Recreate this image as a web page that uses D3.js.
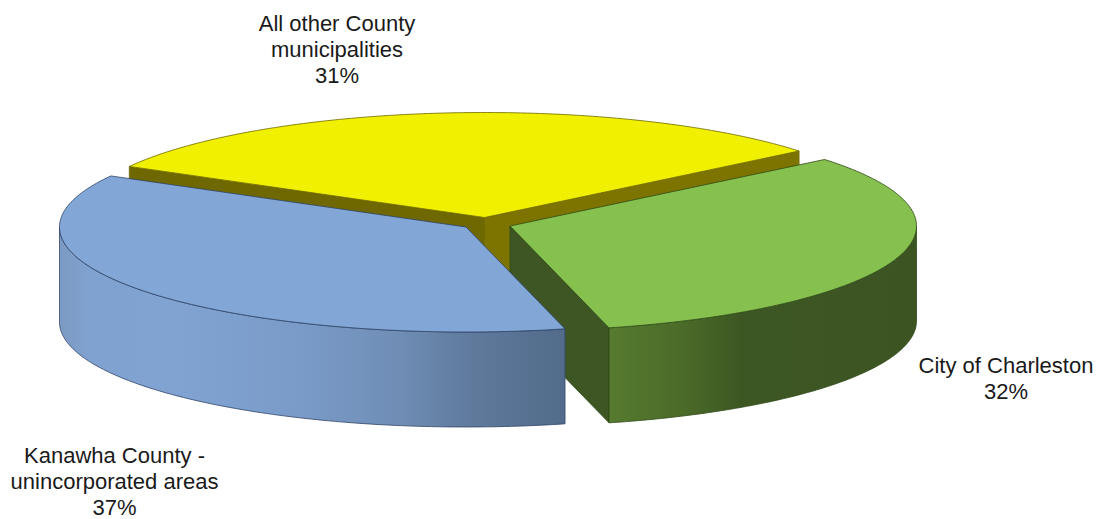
<!DOCTYPE html>
<html>
<head>
<meta charset="utf-8">
<script src="https://cdn.jsdelivr.net/npm/d3@7/dist/d3.min.js"></script>
<style>
  html, body { margin: 0; padding: 0; background: #fff; }
  svg { display: block; }
  text { font-family: "Liberation Sans", Arial, sans-serif; font-size: 22px; fill: #1a1a1a; text-anchor: middle; }
</style>
</head>
<body>
<svg id="chart" width="1104" height="519"></svg>
<script>
// Shares of the county total, clockwise from the back-left edge of the disc.
const categories = ["All other County municipalities", "City of Charleston", "Kanawha County - unincorporated areas"];
const shares = [31, 32, 37];
const labelLines = [
  ["All other County", "municipalities", "31%"],
  ["City of Charleston", "32%"],
  ["Kanawha County -", "unincorporated areas", "37%"]
];
const topColors = ["#f0f000", "#86c04e", "#82a6d5"];
const edgeColors = ["#6e6a00", "#2f4a18", "#2e4468"];
const cutColors = ["#7a7200", "#3d5623", "#55708f"];

// Each slice is pulled out of the disc, so it has its own centre.
const centres = [[484.5, 217.5], [510, 226], [466, 227]];
const labelAnchors = [[337, 31], [1006, 373], [114.5, 463]];
const radiusX = 406.5, radiusY = 105, depth = 95, lineStep = 26;
const startDeg = -60.9;

const svg = d3.select("#chart");
const defs = svg.append("defs");
const rad = d => d * Math.PI / 180;

const pie = d3.pie().sort(null)
  .startAngle(rad(startDeg))
  .endAngle(rad(startDeg + 360));
const slices = pie(shares);

// Tilted-disc projection: slice angle to screen offset.
const px = (i, a) => centres[i][0] + radiusX * Math.sin(a);
const py = (i, a) => centres[i][1] - radiusY * Math.cos(a);
const path = d3.line().x(d => d[0]).y(d => d[1]);

function arcPoints(i, a0, a1, dy = 0) {
  return d3.range(0, 121).map(k => {
    const a = a0 + (a1 - a0) * k / 120;
    return [px(i, a), py(i, a) + dy];
  });
}

// Radial cut face running from the slice centre out to angle a.
function cutFace(g, i, a, fill) {
  const c = centres[i], p = [px(i, a), py(i, a)];
  g.append("path")
    .attr("d", path([c, p, [p[0], p[1] + depth], [c[0], c[1] + depth]]) + "Z")
    .attr("fill", fill)
    .attr("stroke", edgeColors[i])
    .attr("stroke-width", 0.8);
}

// Curved outer wall of a slice, between two angles on the front of the disc.
function outerWall(g, i, a0, a1, fill) {
  const pts = arcPoints(i, a0, a1).concat(arcPoints(i, a1, a0, depth));
  g.append("path")
    .attr("d", path(pts) + "Z")
    .attr("fill", fill)
    .attr("stroke", edgeColors[i])
    .attr("stroke-width", 0.8);
}

function topFace(g, i) {
  const s = slices[i];
  const pts = [centres[i]].concat(arcPoints(i, s.startAngle, s.endAngle));
  g.append("path")
    .attr("d", path(pts) + "Z")
    .attr("fill", topColors[i])
    .attr("stroke", edgeColors[i])
    .attr("stroke-width", 0.8);
}

function wallGradient(id, x1, x2, stops) {
  const offset = d3.scaleLinear().domain([x1, x2]).range([0, 1]);
  const g = defs.append("linearGradient")
    .attr("id", id)
    .attr("gradientUnits", "userSpaceOnUse")
    .attr("x1", x1).attr("x2", x2).attr("y1", 0).attr("y2", 0);
  stops.forEach(([x, c]) => g.append("stop").attr("offset", offset(x)).attr("stop-color", c));
}

wallGradient("blueWall", 60, 566, [
  [60, "#7c9ac2"], [90, "#80a2d0"], [180, "#80a3d2"], [300, "#7a9bc8"],
  [400, "#6f8db5"], [470, "#5f7a9c"], [566, "#526b8b"]
]);
wallGradient("greenWall", 610, 917, [
  [610, "#567a2f"], [680, "#4b6c29"], [740, "#3d5723"], [917, "#3c5422"]
]);

// Back-to-front painting: yellow, then green, then blue.
const yellow = svg.append("g");
cutFace(yellow, 0, slices[0].startAngle, "#6f6800");
cutFace(yellow, 0, slices[0].endAngle, "#7d7400");
topFace(yellow, 0);

const green = svg.append("g");
cutFace(green, 1, slices[1].endAngle, cutColors[1]);
outerWall(green, 1, Math.PI / 2, slices[1].endAngle, "url(#greenWall)");
topFace(green, 1);

const blue = svg.append("g");
outerWall(blue, 2, slices[2].startAngle, rad(270), "url(#blueWall)");
topFace(blue, 2);

// Category labels with their percentages.
svg.append("g").selectAll("text")
  .data(labelLines)
  .join("text")
  .attr("aria-label", (d, i) => categories[i])
  .attr("transform", (d, i) => `translate(${labelAnchors[i][0]},${labelAnchors[i][1]})`)
  .selectAll("tspan")
  .data(d => d)
  .join("tspan")
  .attr("x", 0)
  .attr("y", (d, i) => i * lineStep)
  .text(d => d);
</script>
</body>
</html>
